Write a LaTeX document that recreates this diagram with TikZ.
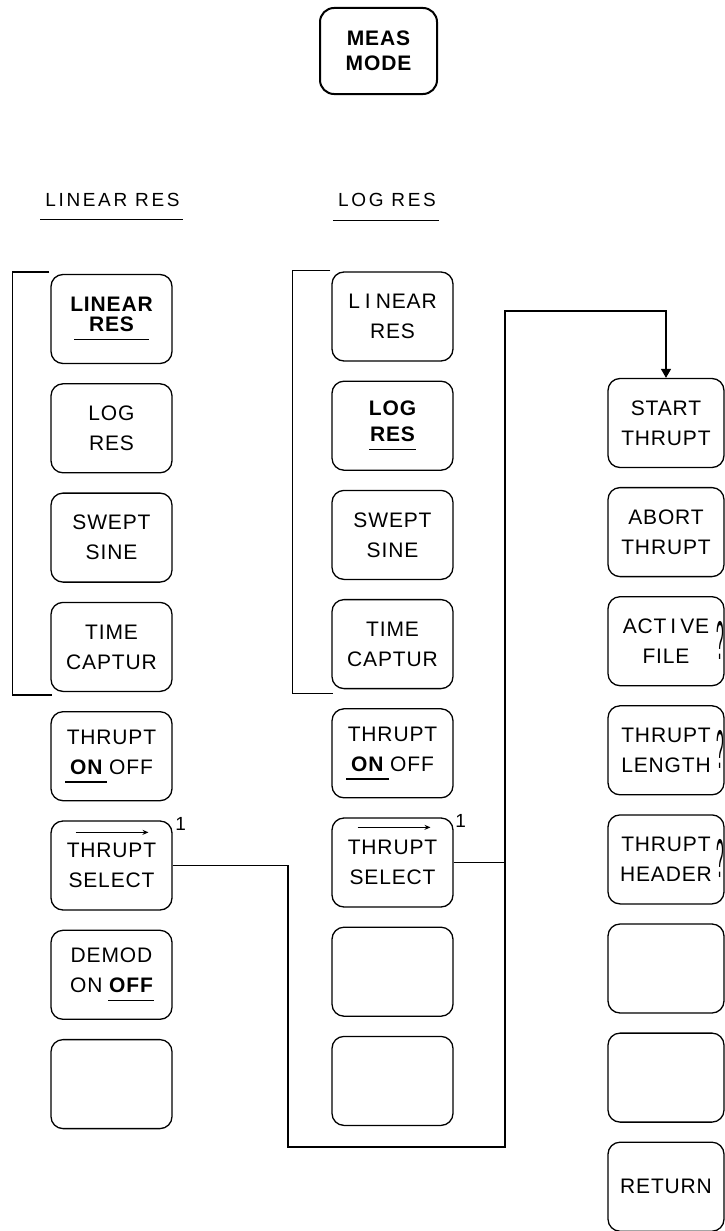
\documentclass[tikz,border=0pt]{standalone}
\usepackage{fontspec}
\usepackage{graphicx}
\setmainfont{Liberation Sans}[LetterSpace=4]
\newfontfamily\hdrfont{Liberation Sans}[LetterSpace=14]
\usetikzlibrary{arrows.meta,calc}
\newcommand\myul[2][5pt]{\setbox0=\hbox{#2}\leavevmode\rlap{\kern-#1\rule[-8.5pt]{\dimexpr\wd0+#1+#1\relax}{1.5pt}}\box0\relax}
\newcommand\tallq{\scalebox{0.65}[2.6]{?}}
\begin{document}
\begin{tikzpicture}[x=1pt,y=-1pt,
  key/.style={draw,rounded corners=12pt,line width=1.3pt,minimum width=121pt,
    minimum height=89pt,inner sep=0pt,align=center,font=\fontsize{21}{30}\selectfont},
  bkey/.style={key,font=\bfseries\fontsize{21}{30}\selectfont},
  rkey/.style={key,minimum width=116pt},
  conn/.style={line width=1.3pt},
  hdr/.style={inner sep=0pt,font=\hdrfont\fontsize{19}{22}\selectfont},
  sup/.style={inner sep=0pt,font=\fontsize{19}{19}\selectfont},
  selarrow/.style={line width=1.4pt,-{Stealth[length=6pt,width=5pt]}},
  qmark/.style={inner sep=0pt,font=\fontsize{21}{30}\selectfont}]
\useasboundingbox (0,0) rectangle (725,1231);

% top key
\node[key,line width=2pt,minimum width=117pt,minimum height=86pt,rounded corners=14pt,
  font=\bfseries\fontsize{21}{25}\selectfont] (meas) at (378.5,51) {MEAS\\MODE};

% headers
\node[hdr] (h1) at (112.5,200) {LINEAR RES};
\node[hdr] (h2) at (387,200) {LOG RES};
\draw[line width=1.6pt] ($(h1.base west)+(-5,13)$) -- ($(h1.base east)+(3,13)$);
\draw[line width=1.6pt] ($(h2.base west)+(-5,14)$) -- ($(h2.base east)+(3,14)$);

% left column
\node[bkey] (ls1) at (111.5,319.0) {LINEAR\\[-10pt]\myul[15pt]{RES}};
\node[key] (ls2) at (111.5,428.3) {LOG\\RES};
\node[key] (ls3) at (111.5,537.6) {SWEPT\\SINE};
\node[key] (ls4) at (111.5,646.9) {TIME\\CAPTUR};
\node[key] (ls5) at (111.5,756.2) {THRUPT\\\myul{\bfseries ON} OFF};
\node[key] (ls6) at (111.5,865.5) {THRUPT\\SELECT};
\node[key] (ls7) at (111.5,974.8) {DEMOD\\ON \myul[1pt]{\bfseries OFF}};
\node[key] (ls8) at (111.5,1084.1) {};

% middle column
\node[key] (ms1) at (392.5,316.5) {L\hspace{5pt}I\hspace{5pt}NEAR\\RES};
\node[bkey] (ms2) at (392.5,425.7) {LOG\\[-4pt]\myul[1pt]{RES}};
\node[key] (ms3) at (392.5,534.9) {SWEPT\\SINE};
\node[key] (ms4) at (392.5,644.1) {TIME\\CAPTUR};
\node[key] (ms5) at (392.5,753.3) {THRUPT\\\myul{\bfseries ON} OFF};
\node[key] (ms6) at (392.5,862.5) {THRUPT\\SELECT};
\node[key] (ms7) at (392.5,971.7) {};
\node[key] (ms8) at (392.5,1080.9) {};

% right column
\node[rkey] (rs1) at (666,423.0) {START\\THRUPT};
\node[rkey] (rs2) at (666,532.1) {ABORT\\THRUPT};
\node[rkey] (rs3) at (666,641.2) {ACT\hspace{4pt}I\hspace{4pt}VE\\FILE};
\node[rkey] (rs4) at (666,750.3) {THRUPT\\LENGTH};
\node[rkey] (rs5) at (666,859.4) {THRUPT\\HEADER};
\node[rkey] (rs6) at (666,968.5) {};
\node[rkey] (rs7) at (666,1077.6) {};
\node[rkey] (rs8) at (666,1186.7) {RETURN};

\node[qmark] (q3) at ($(rs3.east)+(-4,-1)$) {\tallq};
\node[qmark] (q4) at ($(rs4.east)+(-4,-1)$) {\tallq};
\node[qmark] (q5) at ($(rs5.east)+(-4,-1)$) {\tallq};

% select arrows and superscripts
\draw[selarrow] ($(ls6.north)+(-36,12)$) -- ($(ls6.north)+(37,12)$);
\draw[selarrow] ($(ms6.north)+(-35,10)$) -- ($(ms6.north)+(38,10)$);
\node[sup] (n1) at ($(ls6.north east)+(8,4)$) {1};
\node[sup] (n2) at ($(ms6.north east)+(7,4)$) {1};

% brackets
\draw[conn] ($(ls1.north west)+(-1,-2)$) -- ++(-37,0) |- ($(ls4.south west)+(2,3)$);
\draw[conn] ($(ms1.north west)+(-1,-1)$) -- ++(-38,0) |- ($(ms4.south west)+(2,4)$);

% connectors
\coordinate (j1) at (288,1147);
\coordinate (j2) at (505,1147);
\coordinate (j3) at (505,311);
\draw[conn,-{Triangle[length=9pt,width=10pt]}] (ls6.east) -| (j1) -- (j2) -- (j3) -| (rs1.north);
\draw[conn] (ms6.east) -- (ms6.east -| j2);
\end{tikzpicture}
\end{document}
